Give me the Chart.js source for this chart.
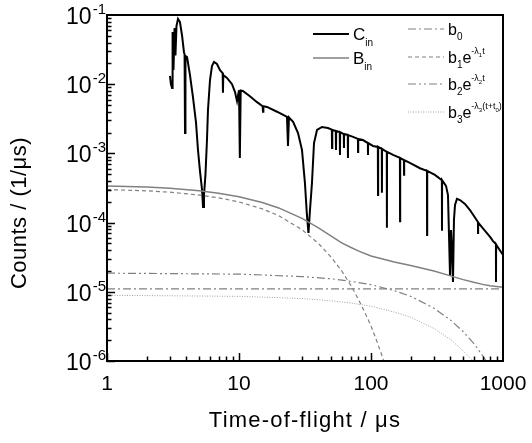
<!DOCTYPE html>
<html>
<head>
<meta charset="utf-8">
<script src="https://cdn.jsdelivr.net/npm/chart.js@4.4.0/dist/chart.umd.min.js"></script>
<style>
  html, body { margin: 0; padding: 0; background: #fff; }
  #box { width: 532px; height: 443px; }
</style>
</head>
<body>
<div id="box"><canvas id="tof" width="532" height="443"></canvas></div>
<script>
// measured spectrum C_in (time in µs, counts per µs)
const cinT = [3.00, 3.05, 3.11, 3.14, 3.19, 3.25, 3.30, 3.36, 3.45, 3.57, 3.70, 3.83, 3.87, 3.90, 3.93, 4.04, 4.25, 4.48, 4.72, 4.89,
  5.07, 5.25, 5.34, 5.43, 5.57, 5.72, 5.82, 6.03, 6.24, 6.47, 6.81, 7.18, 7.52, 7.56, 7.60, 8.11, 8.85, 9.33, 9.66, 10.0,
  10.15, 10.3, 10.7, 12.1, 13.7, 15.1, 15.2, 15.3, 16.3, 19.4, 23.1, 23.5, 23.9, 25.7, 28.0, 30.0, 31.6, 32.7, 33.6, 34.5,
  35.7, 37.0, 39.0, 42.5, 47.2, 50.5, 50.7, 50.9, 54.1, 54.3, 54.5, 58.0, 58.2, 58.4, 62.2, 62.4, 62.6, 66.7, 66.9, 67.1,
  73.1, 79.6, 79.8, 80.0, 86.9, 94.7, 94.9, 95.1, 103.5, 112.7, 113, 113.3, 120.7, 121, 121.3, 131.7, 132, 132.3, 147, 165.6,
  166, 166.4, 177.6, 178, 178.4, 197, 235, 265.4, 266, 266.6, 305, 344.3, 345, 345.7, 370, 383, 397, 404, 411, 418,
  425, 433, 448, 472, 515, 562, 646, 647, 648, 731, 798, 840, 884, 885, 887, 933, 1000];
const cinV = [1.32e-2, 1.0e-2, 8.8e-3, 5.7e-2, 1.6e-2, 6.5e-2, 2.6e-2, 6.9e-2, 8.8e-2, 7.9e-2, 5.1e-2, 2.9e-2, 2.7e-2, 1.97e-3, 2.56e-2, 2.47e-2, 1.36e-2, 6.5e-3, 2.84e-3, 1.12e-3,
  5.4e-4, 2.96e-4, 1.68e-4, 2.5e-4, 4.9e-4, 1.56e-3, 4.2e-3, 1.15e-2, 1.83e-2, 2.1e-2, 1.96e-2, 1.6e-2, 1.45e-2, 7.5e-3, 1.36e-2, 1.23e-2, 1.0e-2, 7.7e-3, 5.7e-3, 8.2e-3,
  8.6e-4, 8.1e-3, 8.0e-3, 6.7e-3, 5.5e-3, 4.8e-3, 4.0e-3, 4.8e-3, 4.7e-3, 4.0e-3, 3.36e-3, 1.28e-3, 3.3e-3, 2.85e-3, 1.97e-3, 1.12e-3, 3.7e-4, 1.29e-4, 7.1e-5, 1.52e-4,
  3.7e-4, 1.41e-3, 2.18e-3, 2.41e-3, 2.33e-3, 2.2e-3, 1.2e-3, 2.18e-3, 2.1e-3, 1.12e-3, 2.1e-3, 2.04e-3, 9.5e-4, 2.03e-3, 1.9e-3, 1.2e-3, 1.9e-3, 1.85e-3, 8.6e-4, 1.84e-3,
  1.73e-3, 1.62e-3, 1.05e-3, 1.62e-3, 1.56e-3, 1.41e-3, 9.5e-4, 1.41e-3, 1.28e-3, 1.24e-3, 2.5e-4, 1.24e-3, 1.16e-3, 2.7e-4, 1.16e-3, 1.05e-3, 8.4e-5, 1.05e-3, 9.5e-4, 8.6e-4,
  1.05e-4, 8.6e-4, 8.0e-4, 4.9e-4, 8.0e-4, 7.3e-4, 6.1e-4, 5.6e-4, 6.6e-5, 5.6e-4, 4.9e-4, 4.1e-4, 7.6e-5, 4.1e-4, 3.4e-4, 2.5e-4, 1.7e-5, 7.8e-5, 4.0e-5, 1.39e-5,
  1.09e-4, 1.8e-4, 2.2e-4, 2.12e-4, 1.86e-4, 1.52e-4, 1.02e-4, 7.1e-5, 1.0e-4, 7.6e-5, 6.2e-5, 5.4e-5, 4.9e-5, 1.39e-5, 4.8e-5, 4.15e-5, 3.4e-5];

// background B_in and its four parts
const binT = [1, 2, 3, 5, 7, 10, 15, 20, 30, 40, 50, 60, 70, 80, 100, 150, 200, 300, 400, 500, 600, 700, 800, 1000];
const binV = [3.39e-4, 3.26e-4, 3.13e-4, 2.88e-4, 2.66e-4, 2.36e-4, 1.95e-4, 1.63e-4, 1.15e-4, 8.4e-5, 6.4e-5, 5.1e-5, 4.4e-5, 3.9e-5,
  3.3e-5, 2.7e-5, 2.4e-5, 2.0e-5, 1.7e-5, 1.5e-5, 1.37e-5, 1.28e-5, 1.22e-5, 1.16e-5];

const b0T = [1, 1000];
const b0V = [1.1e-5, 1.1e-5];

const b1T = [1, 2, 3, 5, 7, 10, 15, 20, 30, 40, 50, 60, 70, 80, 90, 100, 110, 120, 130];
const b1V = [3.0e-4, 2.88e-4, 2.75e-4, 2.5e-4, 2.28e-4, 1.99e-4, 1.58e-4, 1.26e-4, 7.9e-5, 5.0e-5, 3.15e-5, 2.0e-5, 1.26e-5,
  7.9e-6, 5.0e-6, 3.2e-6, 2.0e-6, 1.26e-6, 8e-7];

const b2T = [1, 10, 30, 50, 70, 100, 150, 200, 300, 400, 500, 600, 700, 800];
const b2V = [1.86e-5, 1.8e-5, 1.66e-5, 1.54e-5, 1.42e-5, 1.27e-5, 1.04e-5, 8.6e-6, 5.8e-6, 3.9e-6, 2.65e-6, 1.8e-6, 1.2e-6, 8.2e-7];

const b3T = [1, 10, 30, 50, 70, 100, 150, 200, 300, 400, 500, 600];
const b3V = [8.9e-6, 8.6e-6, 8.0e-6, 7.4e-6, 6.9e-6, 6.2e-6, 5.1e-6, 4.3e-6, 2.95e-6, 2.05e-6, 1.4e-6, 9.8e-7];

// axis ticks
const xTickVals = [1, 10, 100, 1000];
const xTickLabels = ['1', '10', '100', '1000'];
const yTickVals = [1e-1, 1e-2, 1e-3, 1e-4, 1e-5, 1e-6];
const yTickExps = ['-1', '-2', '-3', '-4', '-5', '-6'];

const FONT = "'Liberation Sans', Arial, Helvetica, sans-serif";

function pts(ts, vs) {
  return ts.map((t, i) => ({ x: t, y: vs[i] }));
}

function line(data, color, width, dash) {
  return {
    data: data,
    borderColor: color,
    borderWidth: width,
    borderDash: dash,
    pointRadius: 0,
    fill: false,
    tension: 0
  };
}

// draw a sequence of text pieces (for sub/superscripts)
function runs(ctx, x, y, parts) {
  parts.forEach(p => {
    ctx.font = p.s + 'px ' + FONT;
    ctx.fillText(p.t, x, y + (p.dy || 0));
    x += ctx.measureText(p.t).width + (p.gap || 0);
  });
}

const decor = {
  id: 'decor',
  afterDatasetsDraw(chart) {
    const ctx = chart.ctx;
    const a = chart.chartArea;
    const xs = chart.scales.x, ys = chart.scales.y;
    ctx.save();
    ctx.strokeStyle = '#000';
    ctx.fillStyle = '#000';

    // inward ticks, bottom and left only
    ctx.lineWidth = 1.5;
    ctx.beginPath();
    for (let d = 0; d < 3; d++) {
      for (let k = 1; k < 10; k++) {
        const px = Math.round(xs.getPixelForValue(k * Math.pow(10, d))) + 0.5;
        const len = k === 1 ? 8 : 4.5;
        ctx.moveTo(px, a.bottom);
        ctx.lineTo(px, a.bottom - len);
      }
    }
    for (let e = -6; e < -1; e++) {
      for (let k = 1; k < 10; k++) {
        const py = Math.round(ys.getPixelForValue(k * Math.pow(10, e))) + 0.5;
        const len = k === 1 ? 8 : 4.5;
        ctx.moveTo(a.left, py);
        ctx.lineTo(a.left + len, py);
      }
    }
    ctx.stroke();

    // frame
    ctx.lineWidth = 2;
    ctx.strokeRect(a.left, a.top, a.right - a.left, a.bottom - a.top);

    // x tick labels
    ctx.textAlign = 'center';
    ctx.textBaseline = 'alphabetic';
    ctx.font = '21px ' + FONT;
    xTickVals.forEach((v, i) => {
      ctx.fillText(xTickLabels[i], xs.getPixelForValue(v), 390);
    });

    // y tick labels 10^n
    yTickVals.forEach((v, i) => {
      const py = ys.getPixelForValue(v);
      ctx.textAlign = 'right';
      ctx.font = '15px ' + FONT;
      ctx.fillText(yTickExps[i], 106, py - 1);
      const ew = ctx.measureText(yTickExps[i]).width;
      ctx.font = '23px ' + FONT;
      ctx.fillText('10', 106 - ew - 1, py + 9);
    });

    // axis titles
    ctx.textAlign = 'center';
    ctx.font = '22px ' + FONT;
    ctx.letterSpacing = '1.2px';
    ctx.fillText('Time-of-flight / \u03bcs', (a.left + a.right) / 2, 427);
    ctx.save();
    ctx.letterSpacing = '0.5px';
    ctx.translate(26, 213);
    ctx.rotate(-Math.PI / 2);
    ctx.fillText('Counts / (1/\u03bcs)', 0, 0);
    ctx.restore();
    ctx.letterSpacing = '0px';

    // legend
    ctx.textAlign = 'left';
    const leg = [
      { x: 313, y: 34, c: '#000', w: 2, d: [] },
      { x: 313, y: 58, c: '#808080', w: 1.5, d: [] },
      { x: 408, y: 29, c: '#808080', w: 1.2, d: [8, 3, 2, 3] },
      { x: 408, y: 57, c: '#808080', w: 1.2, d: [4, 3] },
      { x: 408, y: 84, c: '#808080', w: 1.2, d: [8, 3, 2, 3, 2, 3] },
      { x: 408, y: 112, c: '#a0a0a0', w: 1, d: [1, 1.5] }
    ];
    leg.forEach(l => {
      ctx.strokeStyle = l.c;
      ctx.lineWidth = l.w;
      ctx.setLineDash(l.d);
      ctx.beginPath();
      ctx.moveTo(l.x, l.y);
      ctx.lineTo(l.x + 36, l.y);
      ctx.stroke();
    });
    ctx.setLineDash([]);
    ctx.fillStyle = '#000';
    runs(ctx, 353, 40, [{ t: 'C', s: 17 }, { t: 'in', s: 10, dy: 6 }]);
    runs(ctx, 353, 64, [{ t: 'B', s: 17 }, { t: 'in', s: 10, dy: 6 }]);
    runs(ctx, 448, 35, [{ t: 'b', s: 16 }, { t: '0', s: 10, dy: 5 }]);
    runs(ctx, 448, 63, [{ t: 'b', s: 16 }, { t: '1', s: 10, dy: 5 }, { t: 'e', s: 16 },
      { t: '-\u03bb', s: 9, dy: -9 }, { t: '1', s: 6, dy: -6 }, { t: 't', s: 9, dy: -9 }]);
    runs(ctx, 448, 90, [{ t: 'b', s: 16 }, { t: '2', s: 10, dy: 5 }, { t: 'e', s: 16 },
      { t: '-\u03bb', s: 9, dy: -9 }, { t: '2', s: 6, dy: -6 }, { t: 't', s: 9, dy: -9 }]);
    runs(ctx, 448, 118, [{ t: 'b', s: 16 }, { t: '3', s: 10, dy: 5 }, { t: 'e', s: 16 },
      { t: '-\u03bb', s: 9, dy: -9 }, { t: '3', s: 6, dy: -6 }, { t: '(t+t', s: 9, dy: -9 },
      { t: '0', s: 6, dy: -6 }, { t: ')', s: 9, dy: -9 }]);
    ctx.restore();
  }
};

const ctx = document.getElementById('tof').getContext('2d');
const tofChart = new Chart(ctx, {
  type: 'line',
  data: {
    datasets: [
      line(pts(b3T, b3V), '#a0a0a0', 1, [1, 1.5]),
      line(pts(b2T, b2V), '#808080', 1.2, [8, 3, 2, 3, 2, 3]),
      line(pts(b1T, b1V), '#808080', 1.2, [4, 3]),
      line(pts(b0T, b0V), '#808080', 1.2, [8, 3, 2, 3]),
      line(pts(binT, binV), '#808080', 1.5, []),
      line(pts(cinT, cinV), '#000000', 2, [])
    ]
  },
  options: {
    responsive: false,
    animation: false,
    layout: { padding: { left: 0, top: 15, right: 29, bottom: 0 } },
    scales: {
      x: {
        type: 'logarithmic',
        min: 1,
        max: 1000,
        grid: { display: false },
        border: { display: false },
        ticks: { display: false },
        afterFit: s => { s.height = 82; }
      },
      y: {
        type: 'logarithmic',
        min: 1e-6,
        max: 1e-1,
        grid: { display: false },
        border: { display: false },
        ticks: { display: false },
        afterFit: s => { s.width = 107; }
      }
    },
    plugins: {
      legend: { display: false },
      tooltip: { enabled: false }
    }
  },
  plugins: [decor]
});
</script>
</body>
</html>
